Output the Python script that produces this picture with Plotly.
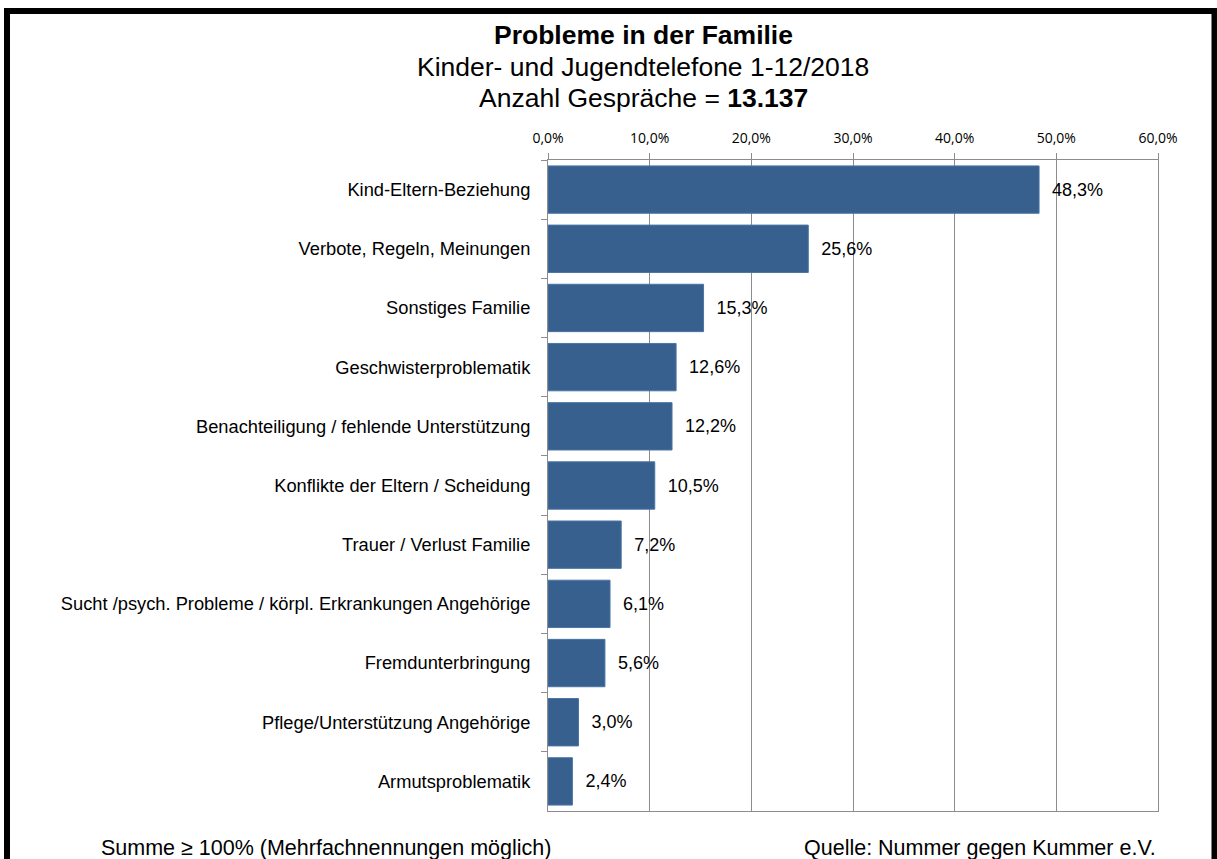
import plotly.graph_objects as go

# Data
categories = [
    "Kind-Eltern-Beziehung",
    "Verbote, Regeln, Meinungen",
    "Sonstiges Familie",
    "Geschwisterproblematik",
    "Benachteiligung / fehlende Unterstützung",
    "Konflikte der Eltern / Scheidung",
    "Trauer / Verlust Familie",
    "Sucht /psych. Probleme / körpl. Erkrankungen Angehörige",
    "Fremdunterbringung",
    "Pflege/Unterstützung Angehörige",
    "Armutsproblematik",
]
shares = [0.483, 0.256, 0.153, 0.126, 0.122, 0.105, 0.072, 0.061, 0.056, 0.030, 0.024]
x_ticks = [0.0, 0.1, 0.2, 0.3, 0.4, 0.5, 0.6]

W, H = 1217, 859
L, R, T, B = 548, 1158, 160, 811


def px(x):
    return (x - L) / (R - L)


def py(y):
    return (B - y) / (B - T)


fig = go.Figure()
fig.add_trace(
    go.Bar(
        x=shares,
        y=categories,
        orientation="h",
        marker=dict(color="#37608F", line=dict(color="#4A74A4", width=1)),
        texttemplate="\u00a0\u00a0%{x:.1%}",
        textposition="outside",
        textfont=dict(family="Liberation Sans, Arial", size=18, color="#000000"),
        cliponaxis=False,
        showlegend=False,
    )
)

axis_grey = "#8C8C8C"
fig.update_layout(
    width=W,
    height=H,
    margin=dict(l=L, r=W - R, t=T, b=H - B),
    paper_bgcolor="white",
    plot_bgcolor="white",
    separators=",.",
    bargap=0.2,
    xaxis=dict(
        side="top",
        range=[0, 0.6],
        tickvals=x_ticks,
        tickformat=".1%",
        ticks="outside",
        ticklen=6,
        tickcolor=axis_grey,
        showline=True,
        linecolor=axis_grey,
        mirror=True,
        showgrid=True,
        gridcolor=axis_grey,
        zeroline=False,
        ticklabelstandoff=4,
        tickfont=dict(family="Open Sans", size=14, color="#000000"),
    ),
    yaxis=dict(
        autorange="reversed",
        ticks="outside",
        tickson="boundaries",
        ticklen=6,
        tickcolor=axis_grey,
        showline=True,
        linecolor=axis_grey,
        mirror=True,
        showgrid=False,
        ticklabelstandoff=13,
        tickfont=dict(family="Liberation Sans, Arial", size=18.3, color="#000000"),
    ),
)

# Title lines
title_font = dict(family="Liberation Sans, Arial", size=26.5, color="#000000")
fig.add_annotation(x=px(643), y=py(35), xref="paper", yref="paper",
                   text="<b>Probleme in der Familie</b>", showarrow=False,
                   xanchor="center", yanchor="middle", font=title_font)
fig.add_annotation(x=px(643), y=py(67), xref="paper", yref="paper",
                   text="Kinder- und Jugendtelefone 1-12/2018", showarrow=False,
                   xanchor="center", yanchor="middle", font=title_font)
fig.add_annotation(x=px(643), y=py(98), xref="paper", yref="paper",
                   text="Anzahl Gespräche = <b>13.137</b>", showarrow=False,
                   xanchor="center", yanchor="middle", font=title_font)

# Footnotes
foot_font = dict(family="Liberation Sans, Arial", size=21.5, color="#000000")
fig.add_annotation(x=px(326), y=py(848), xref="paper", yref="paper",
                   text="Summe ≥ 100% (Mehrfachnennungen möglich)", showarrow=False,
                   xanchor="center", yanchor="middle", font=foot_font)
fig.add_annotation(x=px(1158), y=py(848), xref="paper", yref="paper",
                   text="Quelle: Nummer gegen Kummer e.V.", showarrow=False,
                   xanchor="right", yanchor="middle", font=foot_font)

# Thick black frame round the chart
fig.add_shape(type="rect", xref="paper", yref="paper",
              x0=px(7), x1=px(1214.5), y0=py(890), y1=py(11),
              line=dict(color="#000000", width=6), fillcolor="rgba(0,0,0,0)")

# the page's default body margin would push the figure off the window
fig.write_html(
    "out.html",
    config={"displayModeBar": False},
    post_script="document.body.style.margin='0';",
)
